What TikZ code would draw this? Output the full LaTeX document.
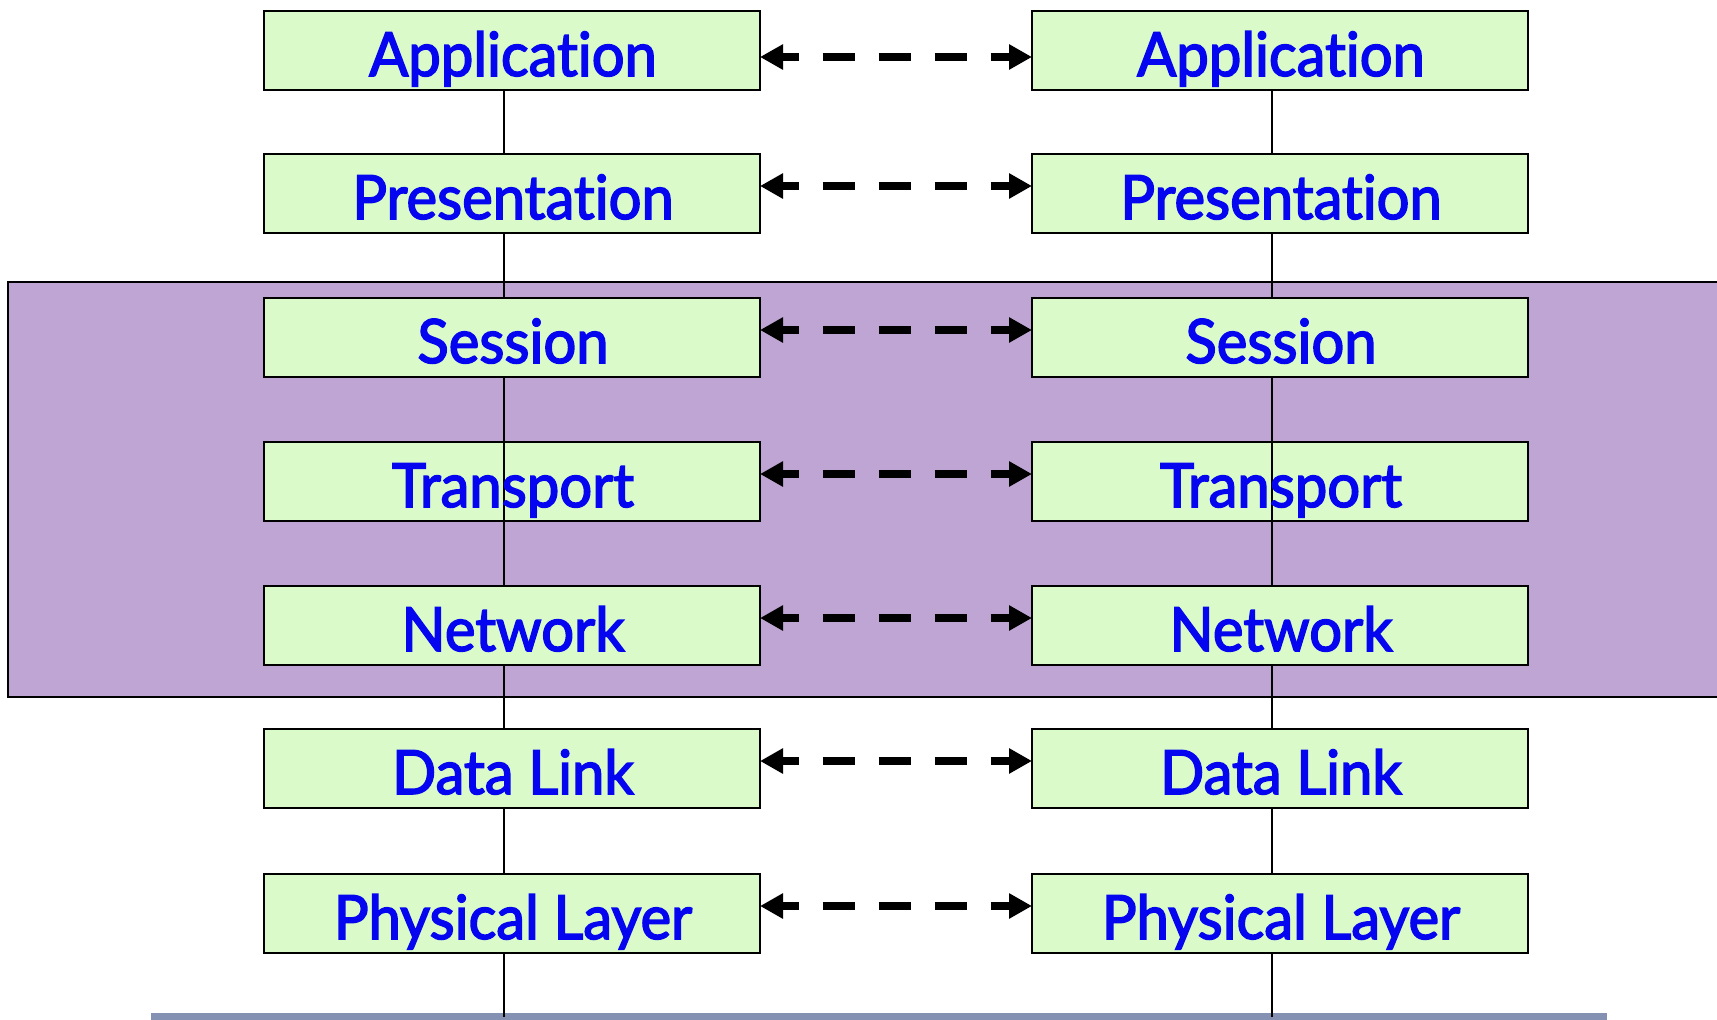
\documentclass[tikz,border=0pt]{standalone}
\usepackage{fontspec}
\newfontfamily\labelfont[Ligatures=NoCommon,FakeStretch=0.95,FakeBold=2.5]{Lato}
\usetikzlibrary{arrows.meta}
\definecolor{boxgreen}{RGB}{218,251,201}
\definecolor{bandpurple}{RGB}{191,165,212}
\definecolor{barblue}{RGB}{133,145,178}
\definecolor{textblue}{RGB}{5,5,240}
\tikzset{
  layerbox/.style={draw=black, line width=2.6pt, fill=boxgreen, minimum width=496pt, minimum height=79pt, inner sep=0pt, outer sep=0pt, anchor=north west},
  layertext/.style={text=textblue, font=\labelfont\fontsize{61pt}{61pt}\selectfont, anchor=base, inner sep=0pt},
  stack/.style={line width=2.6pt, draw=black},
  peer/.style={{Triangle[length=23pt,width=24pt]}-{Triangle[length=23pt,width=24pt]}, line width=8pt, dash pattern=on 32pt off 24pt, dash phase=15pt},
}
\begin{document}
\begin{tikzpicture}[x=1pt,y=-1pt]
\useasboundingbox (0,0) rectangle (1717,1020);
\clip (0,0) rectangle (1717,1020);
\fill[white] (0,0) rectangle (1717,1020);
% purple band
\draw[line width=2.8pt, fill=bandpurple] (8,282) rectangle (1740,697);
% bottom bar
\fill[barblue] (151,1013) rectangle (1607,1025);
% layer boxes
\foreach \t/\i in {11/1,154/2,298/3,442/4,586/5,729/6,874/7} {
  \node[layerbox] (L\i) at (264,\t) {};
  \node[layerbox] (R\i) at (1032,\t) {};
}
\coordinate (LB) at (504,1017);
\coordinate (RB) at (1272,1017);
% stack lines between boxes
\foreach \a/\b in {1/2,2/3,3/4,4/5,5/6,6/7} {
  \draw[stack] ([xshift=-8pt]L\a.south) -- ([xshift=-8pt]L\b.north);
  \draw[stack] ([xshift=-8pt]R\a.south) -- ([xshift=-8pt]R\b.north);
}
\draw[stack] ([xshift=-8pt]L7.south) -- (LB);
\draw[stack] ([xshift=-8pt]R7.south) -- (RB);
\draw[stack] ([xshift=-8pt]L4.north) -- ([xshift=-8pt]L4.south);
\draw[stack] ([xshift=-8pt]R4.north) -- ([xshift=-8pt]R4.south);
% peer arrows
\draw[peer] ([yshift=-6.5pt]L1.east) -- ([yshift=-6.5pt]R1.west);
\foreach \i in {2,...,7} {
  \draw[peer] ([yshift=7.5pt]L\i.east) -- ([yshift=7.5pt]R\i.west);
}
% labels
\foreach \t/\txt/\i in {11/Application/1,154/Presentation/2,298/Session/3,442/Transport/4,586/Network/5,729/Data Link/6,874/Physical Layer/7} {
  \node[layertext] (Lt\i) at (513,\t+65) {\txt};
  \node[layertext] (Rt\i) at (1281,\t+65) {\txt};
}
\end{tikzpicture}
\end{document}
